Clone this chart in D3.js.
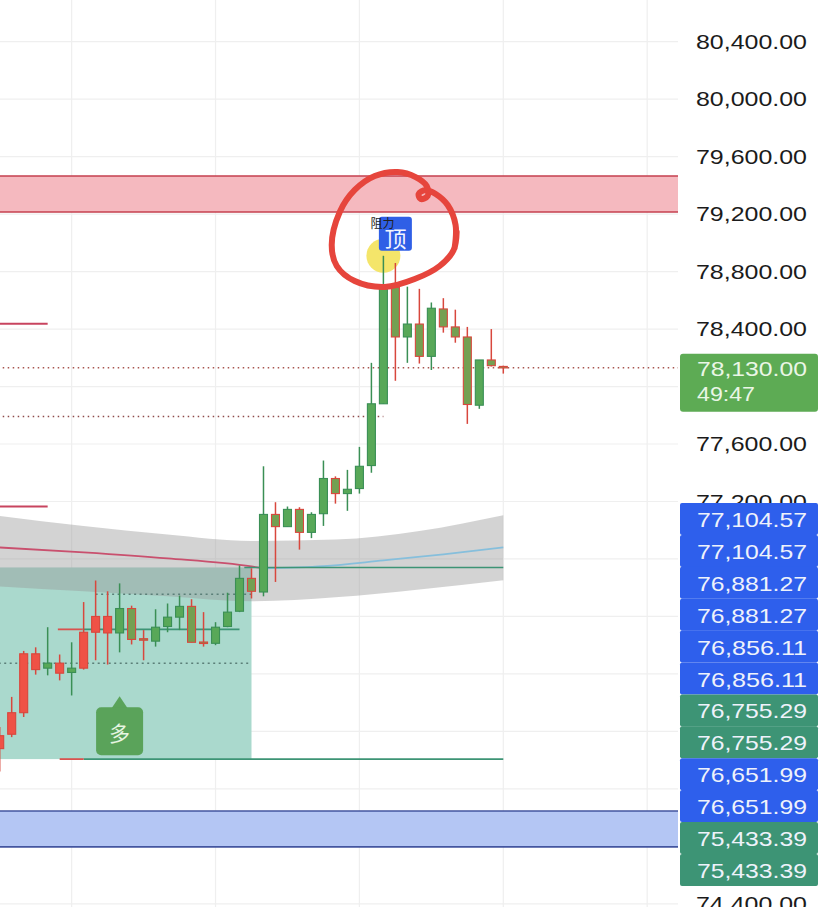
<!DOCTYPE html>
<html><head><meta charset="utf-8">
<script src="https://cdn.jsdelivr.net/npm/d3@7"></script>
<style>html,body{margin:0;padding:0;background:#fff;overflow:hidden}</style>
</head><body>
<svg id="c" width="829" height="907"></svg>
<script>
// ---------- DATA ----------
const opens  = [75570,75730,76140,76140,76040,76075,76010,76290,76400,76400,76285,76455,76245,76228,76330,76395,76470,76222,76213,76330,76436,76665,76570,77110,77025,77145,76985,77115,77360,77255,77290,77450,77880,78690,78345,78435,78210,78540,78415,78345,77870,78185,78140];
const highs  = [75630,75840,76160,76185,76325,76135,76220,76500,76650,76575,76630,76475,76305,76450,76490,76545,76520,76430,76360,76565,76755,76735,77445,77195,77165,77160,77125,77485,77375,77420,77580,78165,78910,78860,78695,78680,78585,78615,78535,78415,78185,78400,78145];
const lows   = [75320,75560,75700,75995,75990,75955,75850,76030,76095,76065,76150,76205,76095,76190,76290,76305,76220,76190,76200,76325,76430,76525,76540,76640,77025,76865,76945,77030,77185,77135,77255,77400,77880,78040,78165,78160,78115,78375,78305,77740,77845,78140,78090];
const closes = [75480,75580,75730,76030,76075,76005,76040,76040,76290,76285,76455,76240,76238,76325,76395,76470,76220,76215,76325,76430,76665,76575,77110,77025,77145,76985,77110,77360,77255,77285,77445,77880,78690,78345,78435,78210,78545,78415,78345,77875,78185,78145,78130];

const gridPrices = [74400,74800,75200,75600,76000,76400,76800,77200,77600,78000,78400,78800,79200,79600,80000,80400,80800];
const tickLabels = [74400,77200,77600,78400,78800,79200,79600,80000,80400];
const gridBars = [6,18,30,42,54];

const bandBars  = [0,7,14,21,28,35,42];
const bandUpper = [77100,77030,76970,76925,76935,76995,77104.57];
const bandLower = [76609,76575,76540,76505,76533,76588,76651.99];

const maBars = [0,7,14,21,22,27,32,37,42];
const maVals = [76880,76846,76804,76748,76735,76750,76790,76832,76881.27];

const resistanceZone = [79215,79465];
const supportZone    = [74796,75046];
const shortLevels    = [78437,77165];
const lastPrice = 78130;
const countdown = "49:47";
const dottedLevel = 77791;

const posTop = 76741, posBottom = 75407;
const posInnerLevel = 76310;
const posDotted = [76554,76074];

const tagValues = [77104.57,77104.57,76881.27,76881.27,76856.11,76856.11,76755.29,76755.29,76651.99,76651.99,75433.39,75433.39];
const tagGroups = ["ind","ind","ind","ind","ind","ind","pos","pos","ind","ind","pos","pos"];

const longSignal = {bar:10, price:75845, text:"多"};
const topSignal  = {bar:33, text:"顶", note:"阻力"};

const loopBars   = [37.94,38.02,37.36,36.36,35.53,34.94,35.11,35.69,35.61,34.69,33.19,31.28,29.61,28.36,27.69,28.11,29.61,32.11,34.61,36.69,37.86,38.11];
const loopPrices = [78964,79124,79263,79340,79368,79340,79305,79326,79396,79458,79493,79465,79368,79215,78985,78839,78734,78693,78748,78839,78950,79076];

// ---------- CHART ----------
const W=829,H=907,plotRight=678;
const svg=d3.select("#c");
const x=d3.scaleLinear().domain([0,42]).range([-0.3,503.3]);
const y=d3.scaleLinear().domain([74400,80400]).range([903.8,41.7]);
const fmt=d3.format(",.2f");
const FONT="'Liberation Sans', Arial, sans-serif";

svg.append("rect").attr("width",W).attr("height",H).attr("fill","#fff");
svg.append("defs").append("clipPath").attr("id","plot").append("rect").attr("width",plotRight).attr("height",H);
const g=svg.append("g").attr("clip-path","url(#plot)");

// grid
g.selectAll(".hg").data(gridPrices).join("line").attr("x1",0).attr("x2",plotRight)
 .attr("y1",d=>y(d)).attr("y2",d=>y(d)).attr("stroke","#efefef").attr("stroke-width",1.2);
g.selectAll(".vg").data(gridBars).join("line").attr("x1",d=>x(d)).attr("x2",d=>x(d))
 .attr("y1",0).attr("y2",H).attr("stroke","#efefef").attr("stroke-width",1.2);

// zones
function zone(z,fill,stroke){
  g.append("rect").attr("x",0).attr("width",plotRight).attr("y",y(z[1])).attr("height",y(z[0])-y(z[1])).attr("fill",fill);
  z.forEach(v=>g.append("line").attr("x1",0).attr("x2",plotRight).attr("y1",y(v)).attr("y2",y(v)).attr("stroke",stroke).attr("stroke-width",1.6));
}
zone(resistanceZone,"#f5b9bf","#c43f4e");
zone(supportZone,"#b4c6f4","#43559f");

// long position box
g.append("rect").attr("x",x(0)-20).attr("width",x(21)-x(0)+20).attr("y",y(posTop)).attr("height",y(posBottom)-y(posTop)).attr("fill","#aad9cd");

// band
const bandPts=bandBars.map((b,i)=>({b,u:bandUpper[i],l:bandLower[i]}));
g.append("path").datum(bandPts).attr("d",d3.area().curve(d3.curveMonotoneX).x(d=>x(d.b)).y0(d=>y(d.l)).y1(d=>y(d.u)))
 .attr("fill","rgba(150,150,150,0.42)");

// MA line: falling part crimson, rising part light blue
const maPts=maBars.map((b,i)=>({b,v:maVals[i]}));
let minI=d3.minIndex(maVals);
const maLine=d3.line().curve(d3.curveMonotoneX).x(d=>x(d.b)).y(d=>y(d.v));
g.append("path").datum(maPts.slice(0,minI+1)).attr("d",maLine).attr("fill","none").attr("stroke","#c9506e").attr("stroke-width",1.8);
g.append("path").datum(maPts.slice(minI)).attr("d",maLine).attr("fill","none").attr("stroke","#86bfdc").attr("stroke-width",1.8);

// horizontal lines
function hline(v,b0,b1,color,w,dash){
  const l=g.append("line").attr("x1",x(b0)).attr("x2",x(b1)).attr("y1",y(v)).attr("y2",y(v)).attr("stroke",color).attr("stroke-width",w);
  if(dash) l.attr("stroke-dasharray",dash);
}
shortLevels.forEach(v=>hline(v,-1,4,"#c8445f",1.8));
hline(lastPrice,-1,60,"#a8554f",1.5,"1.5,3.5");
hline(dottedLevel,-1,32,"#8e4a4a",1.5,"1.5,3.5");
hline(posDotted[0],8,21,"#5b7f78",1.5,"2,3.5");
hline(posDotted[1],-1,21,"#5b7f78",1.5,"2,3.5");
hline(posTop,20.4,42,"#3d9475",1.6);
hline(posInnerLevel,6.9,20,"#3d9475",1.8);
hline(posInnerLevel,4.85,6.9,"#d9534f",1.8);
hline(posBottom,7,42,"#3d9475",1.6);
hline(posBottom,5,7,"#d9534f",1.8);

// yellow highlight under candles
g.append("circle").attr("cx",x(32)).attr("cy",y(highs[32])).attr("r",17).attr("fill","#f3e25a").attr("opacity",0.9);

// candles
const candles=opens.map((o,i)=>({i,o,h:highs[i],l:lows[i],c:closes[i]}));
const redBodyIdx=new Set([0,1,2,3,5,7,8,9]);
const cg=g.append("g");
cg.selectAll(".w").data(candles).join("line")
 .attr("x1",d=>x(d.i)).attr("x2",d=>x(d.i)).attr("y1",d=>y(d.h)).attr("y2",d=>y(d.l))
 .attr("stroke",d=>d.c>=d.o?"#3a8f55":"#d8473d").attr("stroke-width",1.5);
cg.selectAll(".b").data(candles).join("rect")
 .attr("x",d=>x(d.i)-4).attr("width",8)
 .attr("y",d=>y(Math.max(d.o,d.c))).attr("height",d=>Math.max(1.5,Math.abs(y(d.o)-y(d.c))))
 .attr("fill",d=>d.c>=d.o?"#58a858":(redBodyIdx.has(d.i)?"#ef5246":"#74a052"))
 .attr("stroke",d=>d.c>=d.o?"#3a8f55":"#d8473d").attr("stroke-width",1.1);

// long signal marker
{
  const cx=x(longSignal.bar), ty=y(longSignal.price);
  const mg=g.append("g");
  mg.append("path").attr("d",`M${cx-8},${ty+12} L${cx},${ty} L${cx+8},${ty+12} Z`).attr("fill","#5aa35a");
  mg.append("rect").attr("x",cx-23.5).attr("y",ty+11).attr("width",47).attr("height",48).attr("rx",5).attr("fill","#5aa35a");
  mg.append("text").attr("x",cx).attr("y",ty+36).attr("text-anchor","middle").attr("dominant-baseline","central")
   .attr("font-family","'Noto Sans CJK SC',sans-serif").attr("font-size",21).attr("fill","#e6f5e2").text(longSignal.text);
}
// top signal marker
{
  const cx=x(topSignal.bar), by=y(highs[32])-5;
  g.append("rect").attr("x",cx-16.5).attr("y",by-34).attr("width",33).attr("height",34).attr("rx",3).attr("fill","#2f5fe6");
  g.append("text").attr("x",cx).attr("y",by-14).attr("text-anchor","middle").attr("dominant-baseline","central")
   .attr("font-family","'Noto Sans CJK SC',sans-serif").attr("font-size",22).attr("fill","#f2f5ff").text(topSignal.text);
  g.append("text").attr("x",cx-25).attr("y",by-23).attr("font-family","'Noto Sans CJK SC',sans-serif")
   .attr("font-size",12).attr("fill","#222").text(topSignal.note);
}

// hand-drawn loop
const loopPts=loopBars.map((b,i)=>[b,loopPrices[i]]);
g.append("path").datum(loopPts).attr("d",d3.line().curve(d3.curveCatmullRom).x(d=>x(d[0])).y(d=>y(d[1])))
 .attr("fill","none").attr("stroke","#e6453c").attr("stroke-width",6).attr("stroke-linecap","round").attr("stroke-linejoin","round");

// ---------- PRICE AXIS ----------
svg.append("rect").attr("x",plotRight).attr("width",W-plotRight).attr("height",H).attr("fill","#fff");
const ax=svg.append("g").attr("transform","translate(807,0)")
 .call(d3.axisRight(y).tickValues(tickLabels).tickFormat(fmt).tickSize(0).tickPadding(0));
ax.select(".domain").remove();
ax.selectAll("text").attr("x",0).attr("text-anchor","end").attr("font-family",FONT).attr("font-size",21)
 .attr("fill","#1b1b1b").attr("textLength",111).attr("lengthAdjust","spacingAndGlyphs");

// last price badge
{
  const cy=y(lastPrice);
  svg.append("rect").attr("x",680).attr("y",cy-14).attr("width",138).attr("height",58).attr("rx",3).attr("fill","#5dab54");
  svg.append("text").attr("x",697).attr("y",cy+1).attr("dominant-baseline","central").attr("font-family",FONT).attr("font-size",21)
   .attr("fill","#eaf6e6").attr("textLength",110).attr("lengthAdjust","spacingAndGlyphs").text(fmt(lastPrice));
  svg.append("text").attr("x",697).attr("y",cy+26).attr("dominant-baseline","central").attr("font-family",FONT).attr("font-size",21)
   .attr("fill","#eaf6e6").attr("textLength",58).attr("lengthAdjust","spacingAndGlyphs").text(countdown);
}

// stacked tags
const tg=svg.append("g");
tagValues.forEach((v,k)=>{
  const ty=503+k*31.9;
  tg.append("rect").attr("x",680).attr("y",ty).attr("width",138).attr("height",32).attr("rx",2)
    .attr("fill",tagGroups[k]==="ind"?"#2e5fec":"#3d9475");
  tg.append("text").attr("x",807).attr("y",ty+16.5).attr("text-anchor","end").attr("dominant-baseline","central")
    .attr("font-family",FONT).attr("font-size",21).attr("fill","#eef2fb").attr("textLength",110).attr("lengthAdjust","spacingAndGlyphs").text(fmt(v));
});
</script>
</body></html>
